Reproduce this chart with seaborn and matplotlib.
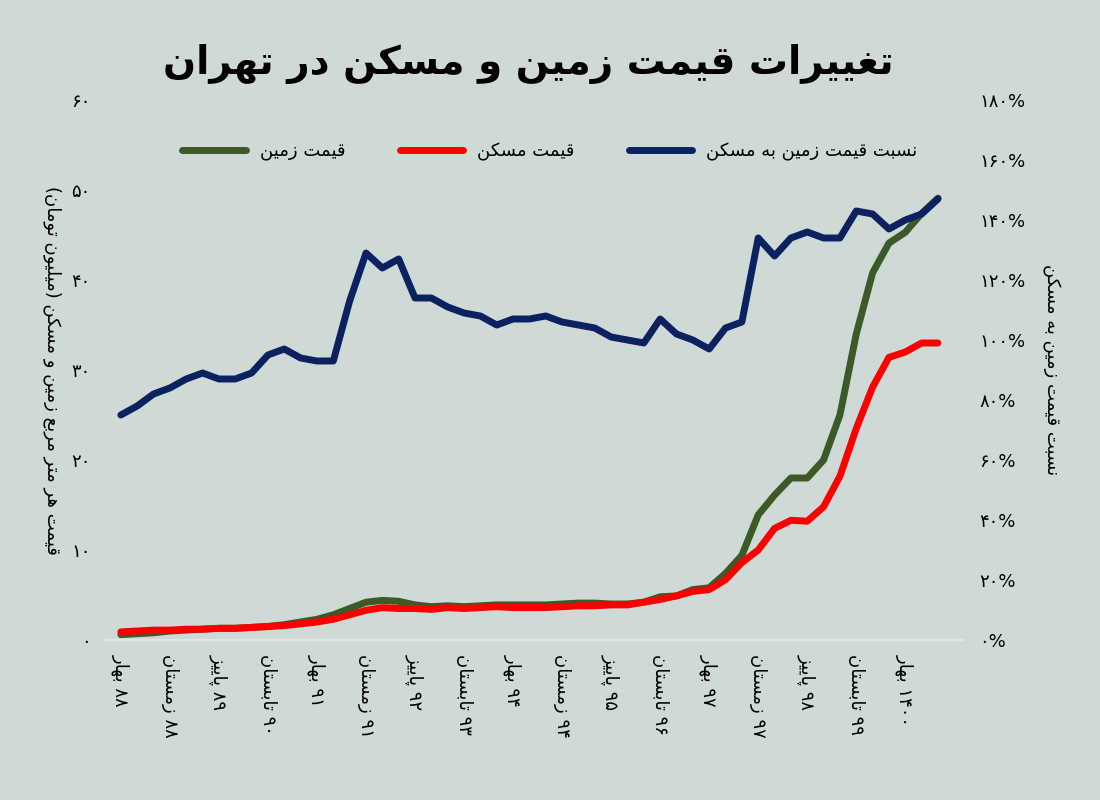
import matplotlib
matplotlib.use("Agg")
import matplotlib.pyplot as plt
import seaborn as sns
import pandas as pd

# ---- data ----
land_price = [0.6, 0.7, 0.8, 1.0, 1.1, 1.2, 1.3, 1.3, 1.4, 1.5, 1.7, 2.0, 2.3, 2.8, 3.5, 4.2, 4.4,
              4.3, 3.9, 3.7, 3.8, 3.7, 3.8, 3.9, 3.9, 3.9, 3.9, 4.0, 4.1, 4.1, 4.0, 4.0, 4.2, 4.8,
              4.9, 5.6, 5.8, 7.4, 9.4, 13.9, 16.1, 18.0, 18.0, 20.0, 25.0, 34.0, 40.8, 44.1, 45.3,
              47.4, 49.1]
house_price = [0.9, 1.0, 1.1, 1.1, 1.2, 1.2, 1.3, 1.3, 1.4, 1.5, 1.6, 1.8, 2.0, 2.3, 2.8, 3.3, 3.6,
               3.5, 3.5, 3.4, 3.6, 3.5, 3.6, 3.7, 3.6, 3.6, 3.6, 3.7, 3.8, 3.8, 3.9, 3.9, 4.2, 4.5,
               4.9, 5.4, 5.6, 6.7, 8.6, 10.0, 12.4, 13.3, 13.2, 14.8, 18.2, 23.5, 28.1, 31.4, 32.0,
               33.0, 33.0]
ratio_pct = [75, 78, 82, 84, 87, 89, 87, 87, 89, 95, 97, 94, 93, 93, 113, 129, 124, 127, 114, 114,
             111, 109, 108, 105, 107, 107, 108, 106, 105, 104, 101, 100, 99, 107, 102, 100, 97, 104,
             106, 134, 128, 134, 136, 134, 134, 143, 142, 137, 140, 142, 147]
tick_seasons = ["بهار", "زمستان", "پاییز", "تابستان"] * 4 + ["بهار"]
tick_years = ["۸۸", "۸۸", "۸۹", "۹۰", "۹۱", "۹۱", "۹۲", "۹۳", "۹۴", "۹۴", "۹۵", "۹۶", "۹۷", "۹۷",
              "۹۸", "۹۹", "۱۴۰۰"]

title = "تغییرات قیمت زمین و مسکن در تهران"
name_land = "قیمت زمین"
name_house = "قیمت مسکن"
name_ratio = "نسبت قیمت زمین به مسکن"
left_label = "قیمت هر متر مربع زمین و مسکن (میلیون تومان)"
right_label = "نسبت قیمت زمین به مسکن"

# ---- minimal Persian shaping (matplotlib has no bidi / joining) ----
FOUR = {"ب": 0xFE8F, "ت": 0xFE95, "ث": 0xFE99, "ج": 0xFE9D, "ح": 0xFEA1, "خ": 0xFEA5,
        "س": 0xFEB1, "ش": 0xFEB5, "ص": 0xFEB9, "ض": 0xFEBD, "ط": 0xFEC1, "ظ": 0xFEC5,
        "ع": 0xFEC9, "غ": 0xFECD, "ف": 0xFED1, "ق": 0xFED5, "ل": 0xFEDD, "م": 0xFEE1,
        "ن": 0xFEE5, "ه": 0xFEE9, "پ": 0xFB56, "چ": 0xFB7A, "ک": 0xFB8E, "گ": 0xFB92,
        "ی": 0xFBFC}
TWO = {"ا": 0xFE8D, "آ": 0xFE81, "د": 0xFEA9, "ذ": 0xFEAB, "ر": 0xFEAD, "ز": 0xFEAF,
       "و": 0xFEED, "ژ": 0xFB8A}
DIGITS = set("۰۱۲۳۴۵۶۷۸۹0123456789%")
MIRROR = {"(": ")", ")": "("}


def shape(s):
    out = []
    for i, c in enumerate(s):
        if c not in FOUR and c not in TWO:
            out.append(MIRROR.get(c, c))
            continue
        prev = s[i - 1] if i > 0 else ""
        nxt = s[i + 1] if i + 1 < len(s) else ""
        jp = prev in FOUR
        jn = c in FOUR and (nxt in FOUR or nxt in TWO)
        base = FOUR.get(c, TWO.get(c))
        if c in TWO:
            out.append(chr(base + (1 if jp else 0)))
        else:
            idx = 3 if (jp and jn) else 1 if jp else 2 if jn else 0
            out.append(chr(base + idx))
    # reverse for display, keeping digit runs left-to-right
    runs, cur = [], ""
    for c in out:
        if cur and ((c in DIGITS) != (cur[-1] in DIGITS)):
            runs.append(cur)
            cur = ""
        cur += c
    if cur:
        runs.append(cur)
    return "".join(r if r[0] in DIGITS else r[::-1] for r in reversed(runs))


def fa_num(n):
    return "".join("۰۱۲۳۴۵۶۷۸۹"[int(d)] for d in str(n))


df = pd.DataFrame({"q": range(len(land_price)), "land": land_price,
                   "house": house_price, "ratio": ratio_pct})

BG = "#cfd9d6"
sns.set_theme(style="white")
plt.rcParams["font.family"] = ["DejaVu Sans"]
plt.rcParams["text.color"] = "black"
plt.rcParams["xtick.color"] = "black"
plt.rcParams["ytick.color"] = "black"
plt.rcParams["axes.labelcolor"] = "black"

fig, ax = plt.subplots(figsize=(11, 8), dpi=100)
fig.patch.set_facecolor(BG)
ax.set_facecolor(BG)
fig.subplots_adjust(left=0.095, right=0.875, top=0.875, bottom=0.2)

sns.lineplot(data=df, x="q", y="land", ax=ax, color="#3b5a27", lw=5, label=shape(name_land),
             legend=False)
sns.lineplot(data=df, x="q", y="house", ax=ax, color="#ff0000", lw=5, label=shape(name_house),
             legend=False)
ax2 = ax.twinx()
sns.lineplot(data=df, x="q", y="ratio", ax=ax2, color="#0b2160", lw=5, label=shape(name_ratio),
             legend=False)

ax.set_ylim(0, 60)
ax2.set_ylim(0, 180)
ax.set_xlim(-1, len(land_price) + 0.5)
ax.set_yticks(range(0, 61, 10))
ax.set_yticklabels([fa_num(v) for v in range(0, 61, 10)], fontsize=13)
ax2.set_yticks(range(0, 181, 20))
ax2.set_yticklabels([fa_num(v) + "%" for v in range(0, 181, 20)], fontsize=13)
ax.set_xticks(range(0, 3 * len(tick_years), 3))
ax.set_xticklabels([shape(s) + " " + y for s, y in zip(tick_seasons, tick_years)],
                   rotation=-90, fontsize=13, va="top", ha="center")
ax.tick_params(axis="both", length=0, pad=10)
ax2.tick_params(axis="both", length=0, pad=12)
ax.set_xlabel("")
ax.set_ylabel(shape(left_label), fontsize=13, rotation=-90, labelpad=20)
ax2.set_ylabel(shape(right_label), fontsize=13, rotation=-90, labelpad=25)
for a in (ax, ax2):
    for sp in a.spines.values():
        sp.set_visible(False)
ax.spines["bottom"].set_visible(True)
ax.spines["bottom"].set_color("#e4e9e7")

h1, l1 = ax.get_legend_handles_labels()
h2, l2 = ax2.get_legend_handles_labels()
fig.legend(h1 + h2, l1 + l2, loc="center", bbox_to_anchor=(0.5, 0.81), ncol=3, frameon=False,
           fontsize=13, handlelength=3.5, columnspacing=3)

fig.text(0.48, 0.92, shape(title), ha="center", va="center", fontsize=28, fontweight="bold",
         color="black")

fig.savefig("out.png", dpi=100, facecolor=BG)
